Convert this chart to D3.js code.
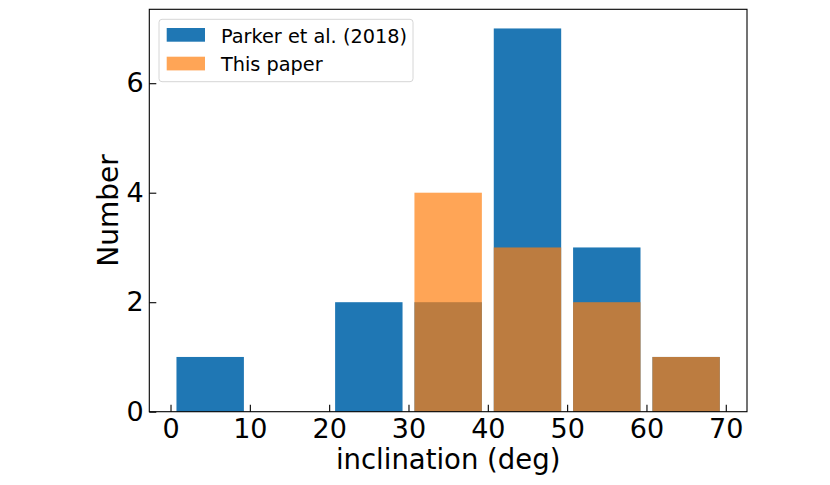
<!DOCTYPE html>
<html><head><meta charset="utf-8">
<script src="https://cdn.jsdelivr.net/npm/d3@7/dist/d3.min.js"></script>
<style>body{margin:0;background:#fff;}svg{display:block;font-family:"DejaVu Sans",sans-serif;}</style>
</head><body>
<script>
const binEdges = [0, 10, 20, 30, 40, 50, 60, 70];
const parkerCounts = [1, 0, 2, 2, 7, 3, 1];
const thisPaperCounts = [0, 0, 0, 4, 3, 2, 1];
const xTicks = [0, 10, 20, 30, 40, 50, 60, 70];
const yTicks = [0, 2, 4, 6];
const seriesNames = ["Parker et al. (2018)", "This paper"];

const W = 830, H = 485;
const L = 149.3, R = 747, T = 9.3, B = 411.7;
const rwidth = 0.85;

const svg = d3.select("body").append("svg").attr("width", W).attr("height", H);
svg.append("rect").attr("width", W).attr("height", H).attr("fill", "#fff");

const x = d3.scaleLinear().domain([-2.675, 72.675]).range([L, R]);
const y = d3.scaleLinear().domain([0, 7.35]).range([B, T]);

function bins(counts) {
  return counts.map((c, i) => {
    const a = binEdges[i], b = binEdges[i + 1], pad = (b - a) * (1 - rwidth) / 2;
    return {x0: a + pad, x1: b - pad, c};
  }).filter(d => d.c > 0);
}

const series = [
  {data: bins(parkerCounts), color: "#1f77b4", opacity: 1},
  {data: bins(thisPaperCounts), color: "#ff7f0e", opacity: 0.7}
];

series.forEach(s => {
  svg.append("g").selectAll("rect").data(s.data).join("rect")
    .attr("x", d => x(d.x0)).attr("width", d => x(d.x1) - x(d.x0))
    .attr("y", d => y(d.c)).attr("height", d => y(0) - y(d.c))
    .attr("fill", s.color).attr("fill-opacity", s.opacity);
});

// axes
const xAxis = svg.append("g").attr("transform", `translate(0,${B})`)
  .call(d3.axisBottom(x).tickValues(xTicks).tickSize(-7).tickPadding(5.5).tickFormat(d3.format("d")));
const yAxis = svg.append("g").attr("transform", `translate(${L},0)`)
  .call(d3.axisLeft(y).tickValues(yTicks).tickSize(-7).tickPadding(5.5).tickFormat(d3.format("d")));
[xAxis, yAxis].forEach(g => {
  g.select(".domain").remove();
  g.selectAll(".tick line").attr("stroke", "#000").attr("stroke-width", 1.1);
  g.selectAll(".tick text").attr("font-size", 27).attr("fill", "#000")
    .attr("font-family", "DejaVu Sans, sans-serif");
});
xAxis.selectAll(".tick text").attr("y", 26).attr("dy", null);

// frame
svg.append("rect").attr("x", L).attr("y", T).attr("width", R - L).attr("height", B - T)
  .attr("fill", "none").attr("stroke", "#000").attr("stroke-width", 1.1);

// labels
svg.append("text").attr("x", (L + R) / 2).attr("y", 469).attr("text-anchor", "middle")
  .attr("font-size", 27.5).attr("fill", "#000").text("inclination (deg)");
svg.append("text").attr("transform", `translate(118,${(T + B) / 2}) rotate(-90)`)
  .attr("text-anchor", "middle").attr("font-size", 28).attr("fill", "#000").text("Number");

// legend
const lg = svg.append("g");
lg.append("rect").attr("x", 159).attr("y", 19.3).attr("width", 254).attr("height", 62.4)
  .attr("rx", 3).attr("fill", "#fff").attr("fill-opacity", 0.8)
  .attr("stroke", "#d6d6d6").attr("stroke-width", 1);
series.forEach((s, i) => {
  const yy = 28 + i * 28.7;
  lg.append("rect").attr("x", 166.7).attr("y", yy).attr("width", 38.3).attr("height", 13.7)
    .attr("fill", s.color).attr("fill-opacity", s.opacity);
  lg.append("text").attr("x", 221).attr("y", yy + 14.5).attr("font-size", 19.3)
    .attr("fill", "#000").text(seriesNames[i]);
});
</script>
</body></html>
